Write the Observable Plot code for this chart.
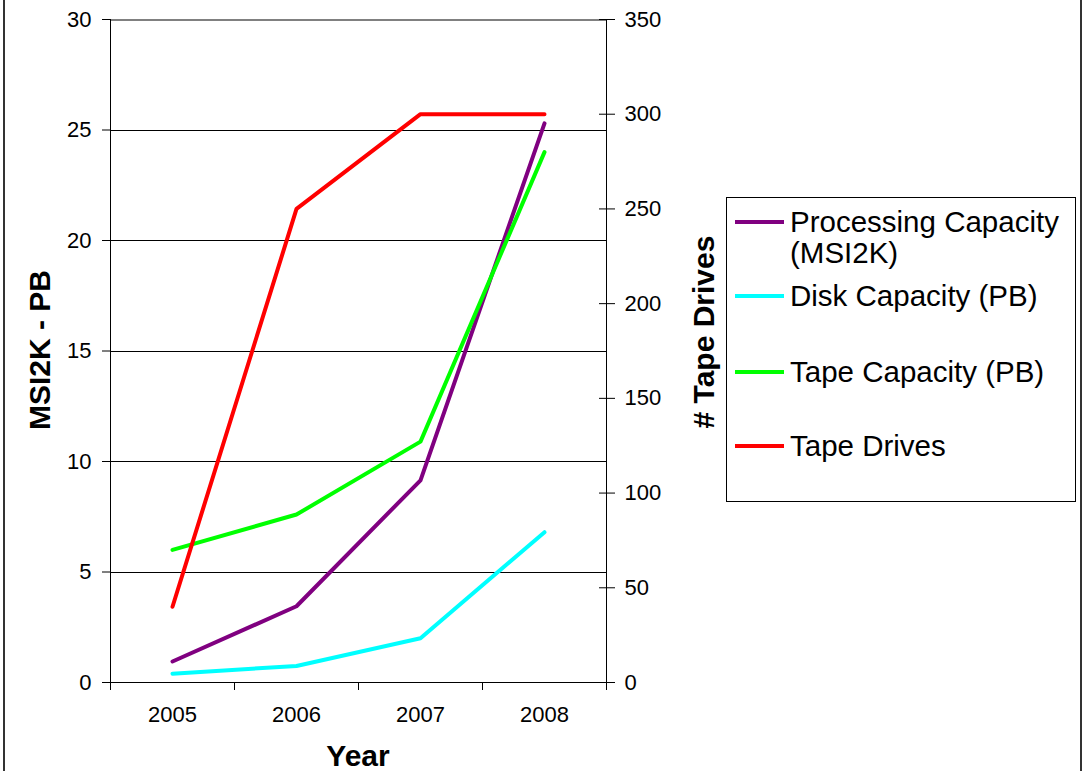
<!DOCTYPE html>
<html><head><meta charset="utf-8">
<script src="https://cdn.jsdelivr.net/npm/d3@7"></script>
<script src="https://cdn.jsdelivr.net/npm/@observablehq/plot@0.6"></script>
<style>
html,body{margin:0;padding:0;background:#fff;width:1084px;height:771px;overflow:hidden;font-family:"Liberation Sans",Arial,sans-serif;color:#000;}
#wrap{position:relative;width:1084px;height:771px;}
#wrap svg{position:absolute;left:0;top:0;}
.frame{position:absolute;top:0;height:771px;width:0;border-left:2px solid #333;}
.ttl{position:absolute;font-weight:bold;font-size:30px;line-height:30px;height:30px;width:400px;text-align:center;white-space:nowrap;}
#legend{position:absolute;left:726px;top:197px;width:350px;height:305px;border:1px solid #000;box-sizing:border-box;}
.sw{position:absolute;left:8px;width:49px;height:4px;}
.lt{position:absolute;left:63px;font-size:29.5px;line-height:31px;white-space:nowrap;}
</style></head>
<body><div id="wrap"></div>
<script>
// ---- data ----
const years = [2005, 2006, 2007, 2008];
const processingCapacity = [0.95, 3.45, 9.15, 25.3];   // MSI2K (left axis)
const diskCapacity = [0.4, 0.75, 2.0, 6.8];            // PB (left axis)
const tapeCapacity = [6.0, 7.6, 10.9, 24.0];           // PB (left axis)
const tapeDrives = [40, 250, 300, 300];                // count (right axis)
const seriesNames = ["Processing Capacity (MSI2K)", "Disk Capacity (PB)", "Tape Capacity (PB)", "Tape Drives"];
const seriesColors = ["#800080", "#00FFFF", "#00FF00", "#FF0000"];
const leftTicks = [0, 5, 10, 15, 20, 25, 30];
const rightTicks = [0, 50, 100, 150, 200, 250, 300, 350];

const leftSeries = [processingCapacity, diskCapacity, tapeCapacity];
const rows = [];
leftSeries.forEach((vals, i) => years.forEach((yr, j) => rows.push({series: seriesNames[i], year: yr, value: vals[j]})));
const driveRows = years.map((yr, j) => ({series: seriesNames[3], year: yr, value: tapeDrives[j]}));
const xBounds = years.map(y => y - 0.5).concat([years[years.length - 1] + 0.5]);

const W = 1084, H = 771;
const M = {left: 110, right: 478, top: 19, bottom: 89};
const xDom = [xBounds[0], xBounds[xBounds.length - 1]];
const font = {fontFamily: "'Liberation Sans', Arial, sans-serif", fontSize: "22px", color: "#000", background: "transparent", overflow: "visible"};
const FS = 22;

const p1 = Plot.plot({
  width: W, height: H,
  marginLeft: M.left, marginRight: M.right, marginTop: M.top, marginBottom: M.bottom,
  style: font,
  x: {type: "linear", domain: xDom},
  y: {domain: [leftTicks[0], leftTicks[leftTicks.length - 1]]},
  color: {domain: seriesNames, range: seriesColors},
  marks: [
    Plot.ruleY(leftTicks.slice(1, -1), {stroke: "#000", strokeWidth: 1, shapeRendering: "crispEdges"}),
    Plot.ruleY(leftTicks.slice(-1), {stroke: "#808080", strokeWidth: 2, shapeRendering: "crispEdges"}),
    Plot.ruleX([xDom[0], xDom[1]], {stroke: "#000", strokeWidth: 1, shapeRendering: "crispEdges"}),
    Plot.ruleY([0], {stroke: "#000", strokeWidth: 1, shapeRendering: "crispEdges"}),
    Plot.axisY({ticks: leftTicks, tickSize: 8, tickPadding: 11, label: null, fontSize: FS}),
    Plot.axisX({ticks: xBounds, tickSize: 8, tickFormat: () => "", label: null}),
    Plot.axisX({ticks: years, tickSize: 0, tickPadding: 24, tickFormat: d => String(d), label: null, fontSize: FS}),
    Plot.line(rows, {x: "year", y: "value", z: "series", stroke: "series", strokeWidth: 4})
  ]
});

const p2 = Plot.plot({
  width: W, height: H,
  marginLeft: M.left, marginRight: M.right, marginTop: M.top, marginBottom: M.bottom,
  style: font,
  x: {type: "linear", domain: xDom, axis: null},
  y: {domain: [rightTicks[0], rightTicks[rightTicks.length - 1]], axis: null},
  color: {domain: seriesNames, range: seriesColors},
  marks: [
    Plot.axisY({anchor: "right", ticks: rightTicks, tickSize: 16, dx: -8, tickPadding: 10, label: null, fontSize: FS}),
    Plot.line(driveRows, {x: "year", y: "value", stroke: "series", strokeWidth: 4})
  ]
});

const wrap = document.getElementById("wrap");
wrap.appendChild(p1);
wrap.appendChild(p2);

function add(html) { const d = document.createElement("div"); d.innerHTML = html; wrap.appendChild(d.firstChild); }
add('<div class="frame" style="left:3px"></div>');
add('<div class="frame" style="left:1080px"></div>');
add('<div class="ttl" style="left:' + (40 - 200) + 'px;top:' + (350 - 15) + 'px;transform:rotate(-90deg)">MSI2K - PB</div>');
add('<div class="ttl" style="left:' + (704 - 200) + 'px;top:' + (332 - 15) + 'px;transform:rotate(-90deg)"># Tape Drives</div>');
add('<div class="ttl" style="left:' + (358 - 200) + 'px;top:' + (756 - 15) + 'px">Year</div>');

const legend = document.createElement("div");
legend.id = "legend";
const legendLabels = [["Processing Capacity", "(MSI2K)"], ["Disk Capacity (PB)"], ["Tape Capacity (PB)"], ["Tape Drives"]];
const legendTops = [8, 82, 158, 232];
legendLabels.forEach((lines, i) => {
  const sw = document.createElement("div");
  sw.className = "sw"; sw.style.background = seriesColors[i]; sw.style.top = (legendTops[i] + 14) + "px";
  legend.appendChild(sw);
  const t = document.createElement("div");
  t.className = "lt"; t.style.top = legendTops[i] + "px";
  t.innerHTML = lines.join("<br>");
  legend.appendChild(t);
});
wrap.appendChild(legend);
</script>
</body></html>
